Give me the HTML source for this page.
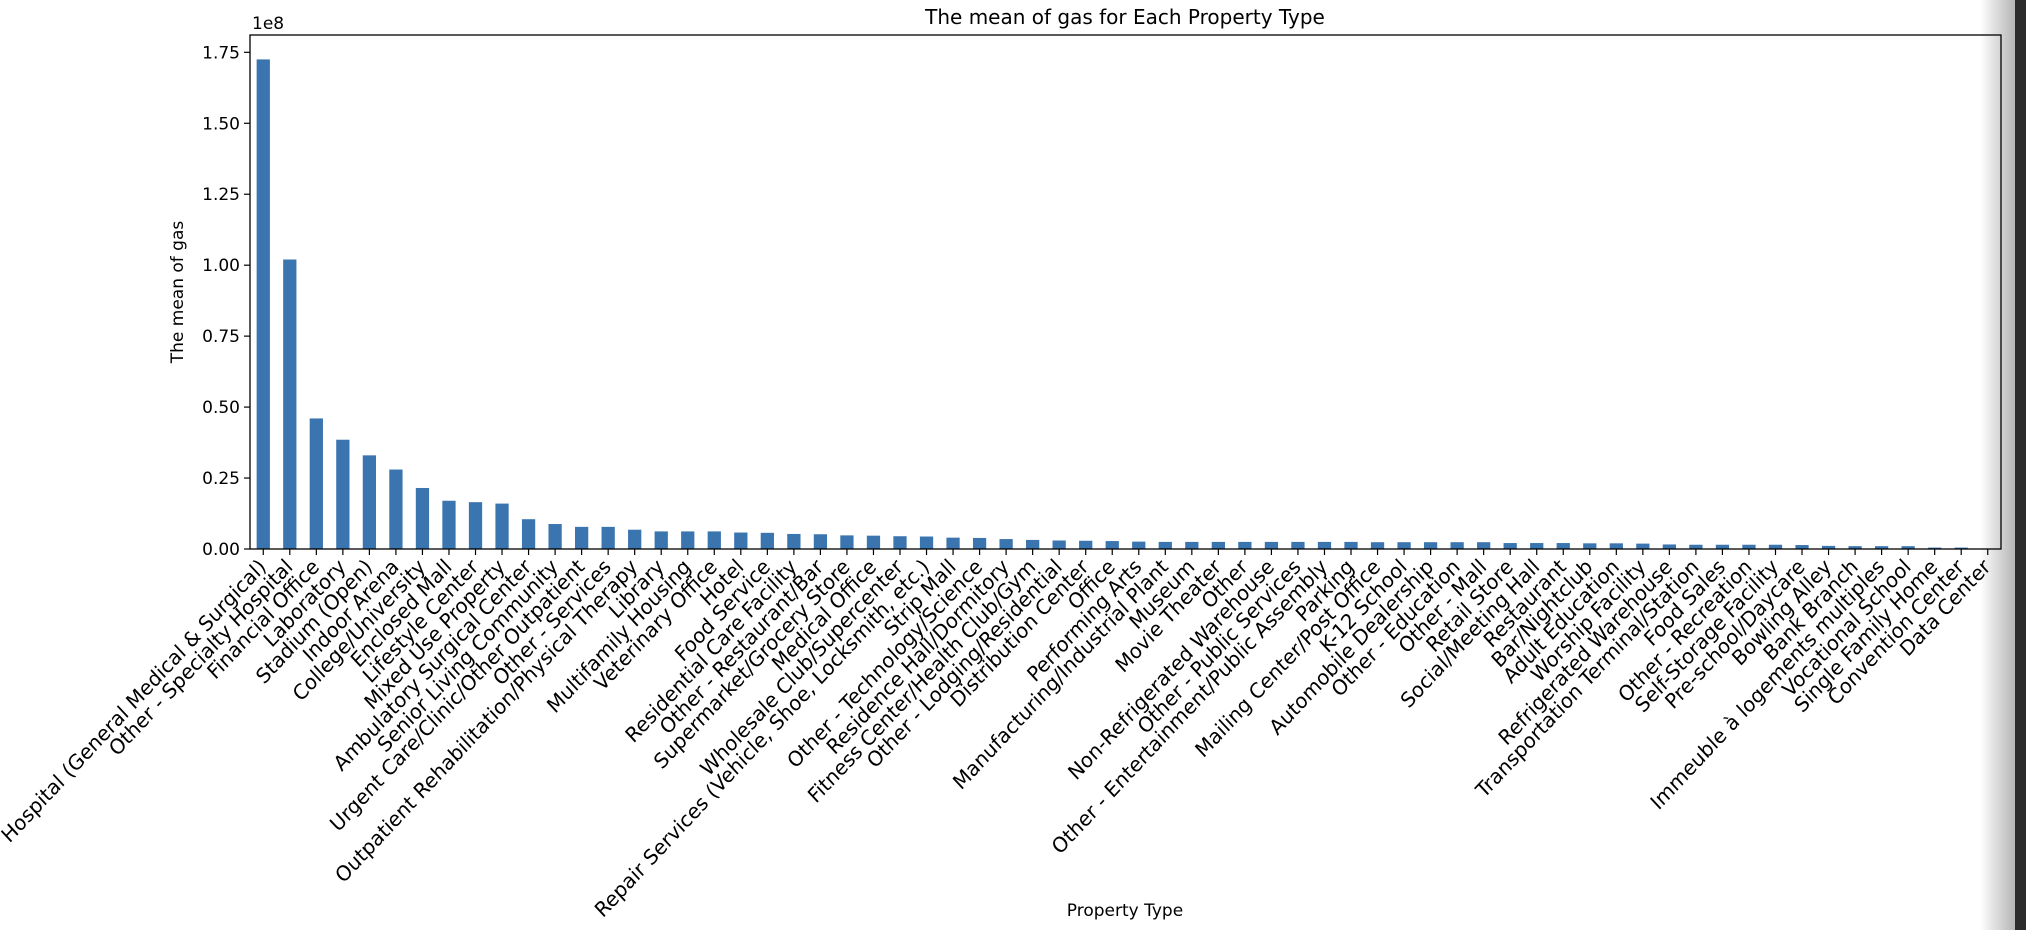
<!DOCTYPE html>
<html><head><meta charset="utf-8"><style>
html,body{margin:0;padding:0;background:#fff;}
svg{display:block;font-family:"DejaVu Sans","Liberation Sans",sans-serif;}
</style></head><body>
<svg id="chart" width="2026" height="930" viewBox="0 0 2026 930">
<defs><linearGradient id="shade" x1="0" x2="1" y1="0" y2="0"><stop offset="0" stop-color="#fff"/><stop offset="1" stop-color="#b5b5b5"/></linearGradient></defs>
<rect x="1980" y="0" width="35" height="930" fill="url(#shade)"/>
<rect x="2015" y="0" width="11" height="930" fill="#2b2b2b"/>
<text x="1125" y="24" text-anchor="middle" font-size="20" fill="#000">The mean of gas for Each Property Type</text>
<text x="252" y="29" font-size="17" fill="#000">1e8</text>
<text transform="translate(183,292) rotate(-90)" text-anchor="middle" font-size="17" fill="#000">The mean of gas</text>
<text x="1125" y="916" text-anchor="middle" font-size="17" fill="#000">Property Type</text>
<g id="bars"></g><g id="yticks"></g><g id="xticks"></g>
<rect x="250" y="35" width="1751" height="514" fill="none" stroke="#000" stroke-width="1.3"/>
</svg>
<script>
const categories = ["Hospital (General Medical & Surgical)","Other - Specialty Hospital","Financial Office","Laboratory","Stadium (Open)","Indoor Arena","College/University","Enclosed Mall","Lifestyle Center","Mixed Use Property","Ambulatory Surgical Center","Senior Living Community","Urgent Care/Clinic/Other Outpatient","Other - Services","Outpatient Rehabilitation/Physical Therapy","Library","Multifamily Housing","Veterinary Office","Hotel","Food Service","Residential Care Facility","Other - Restaurant/Bar","Supermarket/Grocery Store","Medical Office","Wholesale Club/Supercenter","Repair Services (Vehicle, Shoe, Locksmith, etc.)","Strip Mall","Other - Technology/Science","Residence Hall/Dormitory","Fitness Center/Health Club/Gym","Other - Lodging/Residential","Distribution Center","Office","Performing Arts","Manufacturing/Industrial Plant","Museum","Movie Theater","Other","Non-Refrigerated Warehouse","Other - Public Services","Other - Entertainment/Public Assembly","Parking","Mailing Center/Post Office","K-12 School","Automobile Dealership","Other - Education","Other - Mall","Retail Store","Social/Meeting Hall","Restaurant","Bar/Nightclub","Adult Education","Worship Facility","Refrigerated Warehouse","Transportation Terminal/Station","Food Sales","Other - Recreation","Self-Storage Facility","Pre-school/Daycare","Bowling Alley","Bank Branch","Immeuble à logements multiples","Vocational School","Single Family Home","Convention Center","Data Center"];
const values = [1.725,1.02,0.46,0.385,0.33,0.28,0.215,0.17,0.165,0.16,0.105,0.088,0.078,0.078,0.068,0.062,0.062,0.062,0.058,0.057,0.053,0.052,0.048,0.047,0.045,0.044,0.04,0.039,0.035,0.032,0.03,0.029,0.028,0.026,0.025,0.025,0.025,0.025,0.025,0.025,0.025,0.025,0.024,0.024,0.024,0.024,0.024,0.021,0.021,0.021,0.02,0.02,0.019,0.016,0.015,0.015,0.015,0.015,0.014,0.011,0.01,0.01,0.01,0.005,0.005,0.001];
const yTickValues = [0,0.25,0.5,0.75,1.0,1.25,1.5,1.75];
const yTickLabels = ["0.00","0.25","0.50","0.75","1.00","1.25","1.50","1.75"];

const NS="http://www.w3.org/2000/svg";
const L=250,R=2001,T=35,B=549,YMAX=1.811;
const band=(R-L)/categories.length;
function xPos(i){return L+band*(i+0.5);}
function yPos(v){return B-(v/YMAX)*(B-T);}
function mk(tag,attrs,parent){const e=document.createElementNS(NS,tag);for(const k in attrs)e.setAttribute(k,attrs[k]);parent.appendChild(e);return e;}
const gb=document.getElementById('bars'),gy=document.getElementById('yticks'),gx=document.getElementById('xticks');
values.forEach((v,i)=>{
  const w=band*0.5;
  const r=mk('rect',{x:xPos(i)-w/2,y:yPos(v),width:w,height:B-yPos(v),fill:'#3b75af'},gb);
  
  
});
yTickValues.forEach((v,i)=>{
  const y=yPos(v);
  const l=mk('line',{x1:L-6,x2:L,y1:y,y2:y,stroke:'#000','stroke-width':1.2},gy);
  
  
  const t=mk('text',{x:L-10,y:y+6,'text-anchor':'end','font-size':17,fill:'#000'},gy);
  t.textContent=yTickLabels[i];
  
  
});
categories.forEach((c,i)=>{
  const x=xPos(i);
  const l=mk('line',{x1:x,x2:x,y1:B,y2:B+6,stroke:'#000','stroke-width':1.2},gx);
  
  
  const t=mk('text',{transform:`translate(${x+4},${B+19}) scale(1,1.07) rotate(-45)`,'text-anchor':'end','font-size':19.5,fill:'#000'},gx);
  t.textContent=c;
  
  
});
</script>
</body></html>
